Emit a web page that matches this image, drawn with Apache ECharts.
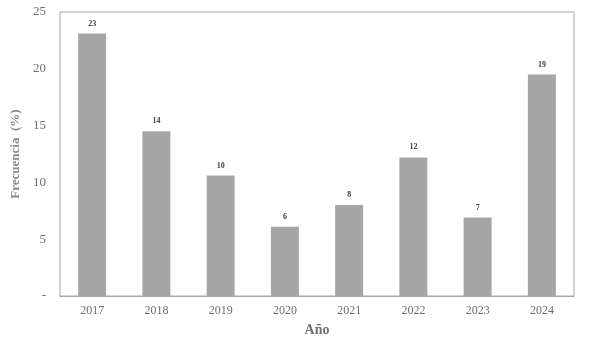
<!DOCTYPE html>
<html><head><meta charset="utf-8">
<script src="https://cdn.jsdelivr.net/npm/echarts@6/dist/echarts.min.js"></script>
<style>html,body{margin:0;padding:0;background:#fff}#c{width:589px;height:344px}</style>
</head><body><div id="c"></div>
<script>
var categories = ['2017','2018','2019','2020','2021','2022','2023','2024'];
var values = [23.1, 14.5, 10.6, 6.1, 8.0, 12.2, 6.9, 19.5];
var barLabels = ['23','14','10','6','8','12','7','19'];
var yTicks = [0, 5, 10, 15, 20, 25];

var chart = echarts.init(document.getElementById('c'));
var font = '"Liberation Serif", "Times New Roman", serif';
chart.setOption({
  animation: false,
  grid: { left: 60, right: 15, top: 12, bottom: 48, show: true, borderColor: '#a6a6a6', borderWidth: 1 },
  xAxis: {
    type: 'category', data: categories,
    name: 'Año', nameLocation: 'middle', nameGap: 27,
    nameTextStyle: { fontFamily: font, fontWeight: 'bold', fontSize: 14, color: '#6f6f6f' },
    axisLine: { lineStyle: { color: '#a6a6a6' } },
    axisTick: { show: false },
    axisLabel: { fontFamily: font, fontSize: 12, color: '#6f6f6f', margin: 9 }
  },
  yAxis: {
    type: 'value', min: 0, max: 25, interval: 5,
    name: 'Frecuencia  (%)', nameLocation: 'middle', nameGap: 36,
    nameTextStyle: { fontFamily: font, fontWeight: 'bold', fontSize: 13, color: '#8a8a8a' },
    axisLine: { show: false }, axisTick: { show: false }, splitLine: { show: false },
    axisLabel: { fontFamily: font, fontSize: 13, color: '#6f6f6f', margin: 14,
      formatter: function (v) { return yTicks.indexOf(v) === 0 ? '-' : String(v); } }
  },
  series: [{
    type: 'bar', data: values, barWidth: 28,
    itemStyle: { color: '#a6a6a6' },
    label: { show: true, position: 'top', distance: 6, fontFamily: font, fontWeight: 'bold', fontSize: 8, color: '#404040',
      formatter: function (p) { return barLabels[p.dataIndex]; } }
  }]
});
</script></body></html>
